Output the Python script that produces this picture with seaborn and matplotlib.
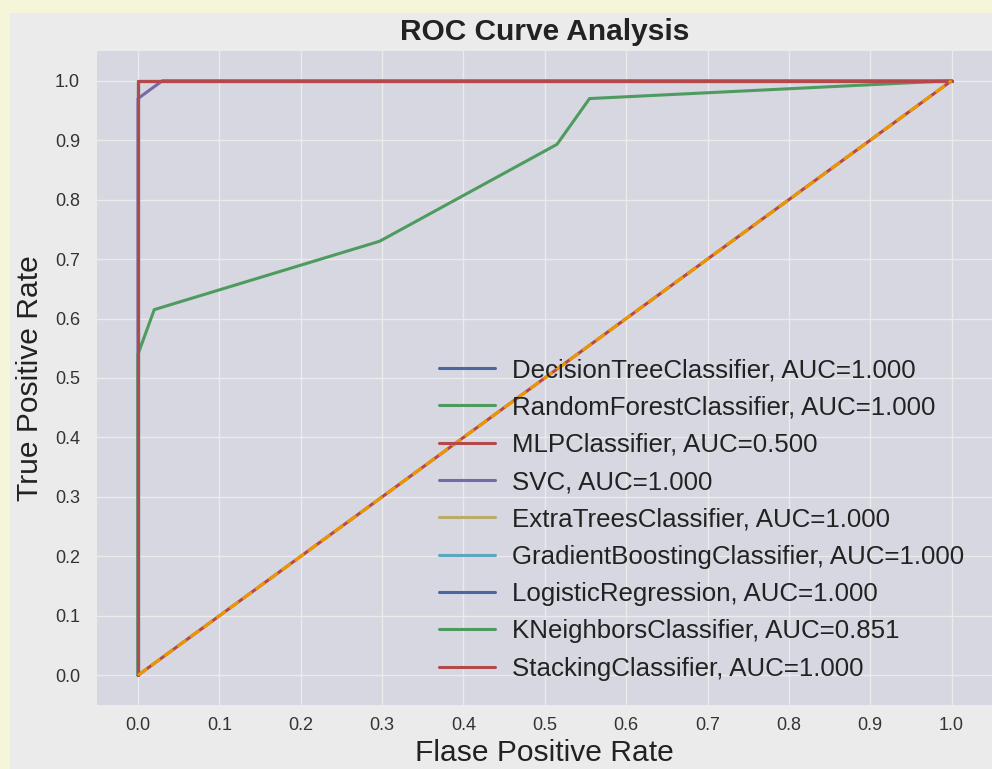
import numpy as np
import pandas as pd
import matplotlib
matplotlib.use("Agg")
import matplotlib.pyplot as plt
import seaborn as sns

# ROC curves
model_names = [
    "DecisionTreeClassifier",
    "RandomForestClassifier",
    "MLPClassifier",
    "SVC",
    "ExtraTreesClassifier",
    "GradientBoostingClassifier",
    "LogisticRegression",
    "KNeighborsClassifier",
    "StackingClassifier",
]
auc_values = [1.000, 1.000, 0.500, 1.000, 1.000, 1.000, 1.000, 0.851, 1.000]

fpr_values = [
    [0.0, 0.0, 1.0],
    [0.0, 0.0, 1.0],
    [0.0, 1.0],
    [0.0, 0.0, 0.03, 1.0],
    [0.0, 0.0, 1.0],
    [0.0, 0.0, 1.0],
    [0.0, 0.0, 1.0],
    [0.0, 0.0, 0.02, 0.297, 0.515, 0.555, 1.0],
    [0.0, 0.0, 1.0],
]
tpr_values = [
    [0.0, 1.0, 1.0],
    [0.0, 1.0, 1.0],
    [0.0, 1.0],
    [0.0, 0.97, 1.0, 1.0],
    [0.0, 1.0, 1.0],
    [0.0, 1.0, 1.0],
    [0.0, 1.0, 1.0],
    [0.0, 0.54, 0.615, 0.73, 0.893, 0.97, 1.0],
    [0.0, 1.0, 1.0],
]
diag_x = [0.0, 1.0]
diag_y = [0.0, 1.0]
tick_values = np.round(np.arange(0.0, 1.01, 0.1), 1)

sns.set_theme(style="darkgrid")
plt.rcParams["font.family"] = ["Liberation Sans", "DejaVu Sans"]
plt.rcParams["axes.facecolor"] = "#D6D7E0"
plt.rcParams["grid.color"] = "#EBEBEB"
# the screenshot is slightly dimmed, so dim the palette the same way
dim = 0.92
colors = [tuple(c * dim for c in col) for col in sns.color_palette("deep6")]
diag_color = (1.0 * dim, 0.647 * dim, 0.0)

fig = plt.figure(figsize=(9.92, 7.69), dpi=100, facecolor="#F5F5DA")
bg = plt.Rectangle((10 / 992, 0), 1, 1 - 13 / 769, transform=fig.transFigure,
                   facecolor="#EBEBEB", edgecolor="none", zorder=-10)
fig.patches.append(bg)
ax = fig.add_axes([97.3 / 992, 64 / 769, 895 / 992, 654 / 769])

for i, name in enumerate(model_names):
    sns.lineplot(
        x=fpr_values[i],
        y=tpr_values[i],
        estimator=None,
        sort=False,
        color=colors[i % len(colors)],
        linewidth=2.2,
        label=f"{name}, AUC={auc_values[i]:.3f}",
        ax=ax,
    )

ax.plot(diag_x, diag_y, color=diag_color, linestyle="--", linewidth=2.2)

ax.set_xlim(-0.05, 1.05)
ax.set_ylim(-0.05, 1.05)
ax.set_xticks(tick_values)
ax.set_yticks(tick_values)
for s in ax.spines.values():
    s.set_visible(False)
ax.tick_params(axis="x", labelsize=13, pad=3, colors="#333333")
ax.tick_params(axis="y", labelsize=13, pad=6.5, colors="#333333")
ax.set_xlabel("Flase Positive Rate", fontsize=21.6, labelpad=3, color="#222222")
ax.set_ylabel("True Positive Rate", fontsize=21.6, labelpad=8, color="#222222")
ax.set_title("ROC Curve Analysis", fontweight="bold", fontsize=21.5, pad=8,
             color="#222222")

leg = ax.legend(
    loc="upper left",
    bbox_to_anchor=(0.3818, 0.5303),
    fontsize=18.6,
    frameon=False,
    borderpad=0,
    borderaxespad=0,
    handlelength=2.15,
    handletextpad=0.68,
    labelspacing=0.515,
)
for t in leg.get_texts():
    t.set_color("#222222")

fig.savefig("out.png", dpi=100, facecolor=fig.get_facecolor())
